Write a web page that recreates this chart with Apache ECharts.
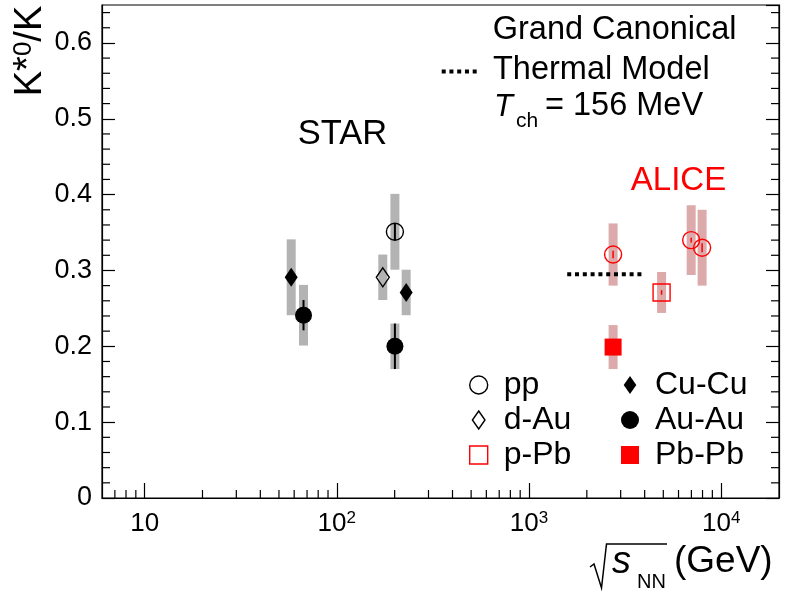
<!DOCTYPE html>
<html><head><meta charset="utf-8">
<script src="https://cdn.jsdelivr.net/npm/echarts@6/dist/echarts.min.js"></script>
<style>html,body{margin:0;padding:0;background:#fff}#c{width:788px;height:593px}</style>
</head><body><div id="c"></div>
<script>
const FONT = 'Liberation Sans';
// each point: [sqrt(sNN) in GeV, K*0/K, stat. error, syst. error]
const STAR_pp    = [[200.6, 0.351, 0.011, 0.050]];
const STAR_dAu   = [[173.5, 0.291, 0.000, 0.030]];
const STAR_CuCu  = [[57.9, 0.291, 0.006, 0.050], [229.6, 0.271, 0.006, 0.030]];
const STAR_AuAu  = [[67.1, 0.241, 0.020, 0.040], [200.6, 0.200, 0.030, 0.030]];
const ALICE_pp   = [[2740, 0.321, 0.005, 0.041], [6982, 0.340, 0.003, 0.046], [7960, 0.330, 0.006, 0.050]];
const ALICE_pPb  = [[4898, 0.271, 0.003, 0.027]];
const ALICE_PbPb = [[2740, 0.199, 0.004, 0.029]];
const THERMAL    = [[1581, 0.295], [3996, 0.295]];
const X_MINOR = [7, 8, 9, 20, 30, 40, 50, 60, 70, 80, 90, 200, 300, 400, 500, 600, 700, 800, 900,
                 2000, 3000, 4000, 5000, 6000, 7000, 8000, 9000];
const Y_MINOR = [0.02, 0.04, 0.06, 0.08, 0.12, 0.14, 0.16, 0.18, 0.22, 0.24, 0.26, 0.28,
                 0.32, 0.34, 0.36, 0.38, 0.42, 0.44, 0.46, 0.48, 0.52, 0.54, 0.56, 0.58, 0.62, 0.64];

const GRAY = '#b3b3b3', PINK = '#dcaaaa', RED = '#ff0000';
const STAR_all = [].concat(STAR_pp, STAR_dAu, STAR_CuCu, STAR_AuAu);
const ALICE_all = [].concat(ALICE_pp, ALICE_pPb, ALICE_PbPb);

function sysRender(color) {
  return function (params, api) {
    const x = api.value(0), y = api.value(1), s = api.value(3);
    const t = api.coord([x, y + s]), b = api.coord([x, y - s]);
    return { type: 'rect', shape: { x: t[0] - 4.5, y: t[1], width: 9, height: b[1] - t[1] }, style: { fill: color } };
  };
}
function statRender(color, w) {
  return function (params, api) {
    const x = api.value(0), y = api.value(1), s = api.value(2);
    if (!(s > 0)) return null;
    const t = api.coord([x, y + s]), b = api.coord([x, y - s]);
    return { type: 'line', shape: { x1: t[0], y1: t[1], x2: b[0], y2: b[1] }, style: { stroke: color, lineWidth: w } };
  };
}
function xMinorRender(params, api) {
  const cs = params.coordSys;
  const px = api.coord([api.value(0), 0.3])[0];
  const yb = cs.y + cs.height;
  return { type: 'line', shape: { x1: px, y1: yb, x2: px, y2: yb - 8 }, style: { stroke: '#000', lineWidth: 1.2 } };
}
function yMinorRender(params, api) {
  const cs = params.coordSys;
  const py = api.coord([100, api.value(1)])[1];
  const xl = cs.x, xr = cs.x + cs.width;
  return { type: 'group', children: [
    { type: 'line', shape: { x1: xl, y1: py, x2: xl + 8, y2: py }, style: { stroke: '#000', lineWidth: 1.2 } },
    { type: 'line', shape: { x1: xr, y1: py, x2: xr - 8, y2: py }, style: { stroke: '#000', lineWidth: 1.2 } }
  ] };
}
const xy = a => a.map(p => [p[0], p[1]]);
const openStyle = c => ({ color: 'rgba(0,0,0,0)', borderColor: c, borderWidth: 1.4, opacity: 1 });
const fillStyle = c => ({ color: c, borderWidth: 0, opacity: 1 });
const legendCommon = {
  orient: 'vertical', top: 369, padding: 0, itemGap: 3, itemWidth: 18, itemHeight: 18,
  selectedMode: false,
  textStyle: { fontSize: 32, fontFamily: FONT, color: '#000', padding: [0, 0, 0, 11] }
};
const DIAMOND = 'path://M0,-10L7,0L0,10L-7,0Z';

const chart = echarts.init(document.getElementById('c'), null, { renderer: 'canvas' });
chart.setOption({
  animation: false,
  backgroundColor: '#fff',
  textStyle: { fontFamily: FONT },
  grid: { left: 102, right: 9, top: 5, bottom: 95, show: true, borderColor: '#000', borderWidth: 1.2, backgroundColor: 'rgba(0,0,0,0)' },
  xAxis: {
    type: 'log', logBase: 10, min: 6, max: 20000,
    axisLine: { show: true, lineStyle: { color: '#000', width: 1.2 } },
    axisTick: { show: true, inside: true, length: 15, lineStyle: { color: '#000', width: 1.2 } },
    splitLine: { show: false }, minorTick: { show: false },
    axisLabel: {
      color: '#000', margin: 12, showMinLabel: false, showMaxLabel: false,
      formatter: function (v) {
        const e = Math.round(Math.log10(v));
        return e === 1 ? '{b|10}' : '{b|10}{s|' + e + '}';
      },
      rich: {
        b: { fontSize: 26, lineHeight: 28, fontFamily: FONT, color: '#000' },
        s: { fontSize: 17, lineHeight: 17, verticalAlign: 'top', fontFamily: FONT, color: '#000' }
      }
    }
  },
  yAxis: [{
    type: 'value', min: 0, max: 0.65, interval: 0.1,
    axisLine: { show: true, lineStyle: { color: '#000', width: 1.2 } },
    axisTick: { show: true, inside: true, length: 13, lineStyle: { color: '#000', width: 1.2 } },
    splitLine: { show: false },
    axisLabel: { color: '#000', fontSize: 27, fontFamily: FONT, margin: 10, showMaxLabel: false,
      formatter: v => (v === 0 ? '0' : v.toFixed(1)) }
  }, {
    type: 'value', min: 0, max: 0.65, interval: 0.1, position: 'right',
    axisLine: { show: true, lineStyle: { color: '#000', width: 1.2 } },
    axisTick: { show: true, inside: true, length: 13, lineStyle: { color: '#000', width: 1.2 } },
    splitLine: { show: false }, axisLabel: { show: false }
  }],
  legend: [Object.assign({}, legendCommon, {
    left: 469,
    data: [
      { name: 'pp', icon: 'circle', itemStyle: openStyle('#000') },
      { name: 'd-Au', icon: DIAMOND, itemStyle: openStyle('#000') },
      { name: 'p-Pb', icon: 'rect', itemStyle: openStyle(RED) }
    ]
  }), Object.assign({}, legendCommon, {
    left: 621,
    data: [
      { name: 'Cu-Cu', icon: DIAMOND, itemStyle: fillStyle('#000') },
      { name: 'Au-Au', icon: 'circle', itemStyle: fillStyle('#000') },
      { name: 'Pb-Pb', icon: 'rect', itemStyle: fillStyle(RED) }
    ]
  })],
  series: [
    { type: 'custom', name: 'xminor', data: X_MINOR.map(v => [v, 0.3]), renderItem: xMinorRender, silent: true, z: 1, clip: false },
    { type: 'custom', name: 'yminor', data: Y_MINOR.map(v => [100, v]), renderItem: yMinorRender, silent: true, z: 1, clip: false },
    { type: 'custom', name: 'STAR sys', data: STAR_all, renderItem: sysRender(GRAY), silent: true, z: 2 },
    { type: 'custom', name: 'ALICE sys', data: ALICE_all, renderItem: sysRender(PINK), silent: true, z: 2 },
    { type: 'line', name: 'Thermal', data: THERMAL, symbol: 'none', silent: true, z: 3,
      lineStyle: { color: '#000', width: 4, type: [4, 3.8], cap: 'butt', opacity: 1 } },
    { type: 'scatter', name: 'pp', data: xy(STAR_pp), symbol: 'circle', symbolSize: 17, itemStyle: openStyle('#000'), z: 4, silent: true },
    { type: 'scatter', name: 'd-Au', data: xy(STAR_dAu), symbol: 'diamond', symbolSize: [13, 19], itemStyle: openStyle('#000'), z: 4, silent: true },
    { type: 'scatter', name: 'p-Pb', data: xy(ALICE_pPb), symbol: 'rect', symbolSize: 17, itemStyle: openStyle(RED), z: 4, silent: true },
    { type: 'scatter', name: 'Cu-Cu', data: xy(STAR_CuCu), symbol: 'diamond', symbolSize: [13, 19], itemStyle: fillStyle('#000'), z: 4, silent: true },
    { type: 'scatter', name: 'Au-Au', data: xy(STAR_AuAu), symbol: 'circle', symbolSize: 17, itemStyle: fillStyle('#000'), z: 4, silent: true },
    { type: 'scatter', name: 'Pb-Pb', data: xy(ALICE_PbPb), symbol: 'rect', symbolSize: 17, itemStyle: fillStyle(RED), z: 4, silent: true },
    { type: 'scatter', name: 'ALICE pp', data: xy(ALICE_pp), symbol: 'circle', symbolSize: 17, itemStyle: openStyle(RED), z: 4, silent: true },
    { type: 'custom', name: 'STAR stat', data: STAR_all, renderItem: statRender('#000', 2), silent: true, z: 5 },
    { type: 'custom', name: 'ALICE stat', data: ALICE_all, renderItem: statRender(RED, 1.5), silent: true, z: 5 }
  ],
  graphic: [
    { type: 'text', x: 31, y: 51, rotation: Math.PI / 2, silent: true,
      style: { text: 'K{a|*}{s|0}/K', fontSize: 38, lineHeight: 40, fontFamily: FONT, fill: '#000', align: 'center', verticalAlign: 'middle',
        rich: { a: { fontSize: 38, lineHeight: 38, verticalAlign: 'top', fontFamily: FONT, fill: '#000' },
                s: { fontSize: 26, lineHeight: 24, verticalAlign: 'top', fontFamily: FONT, fill: '#000' } } } },
    { type: 'polyline', silent: true, shape: { points: [[590, 567], [594, 564], [601.5, 588], [606.5, 544], [667, 544]] },
      style: { stroke: '#000', lineWidth: 1.5, fill: null } },
    { type: 'text', x: 612, y: 562, silent: true, style: { text: 's', fontSize: 38, fontStyle: 'italic', fontFamily: FONT, fill: '#000', align: 'left', verticalAlign: 'middle' } },
    { type: 'text', x: 637, y: 582, silent: true, style: { text: 'NN', fontSize: 20, fontFamily: FONT, fill: '#000', align: 'left', verticalAlign: 'middle' } },
    { type: 'text', x: 674, y: 562, silent: true, style: { text: '(GeV)', fontSize: 37, fontFamily: FONT, fill: '#000', align: 'left', verticalAlign: 'middle' } },
    { type: 'text', x: 342.5, y: 134, silent: true, style: { text: 'STAR', fontSize: 34.5, fontFamily: FONT, fill: '#000', align: 'center', verticalAlign: 'middle' } },
    { type: 'text', x: 678.5, y: 180.5, silent: true, style: { text: 'ALICE', fontSize: 33, fontFamily: FONT, fill: RED, align: 'center', verticalAlign: 'middle' } },
    { type: 'text', x: 492.7, y: 30, silent: true, style: { text: 'Grand Canonical', fontSize: 32.5, fontFamily: FONT, fill: '#000', align: 'left', verticalAlign: 'middle' } },
    { type: 'line', silent: true, shape: { x1: 441.7, y1: 71.5, x2: 477, y2: 71.5 }, style: { stroke: '#000', lineWidth: 4, lineDash: [4, 3.75] } },
    { type: 'text', x: 493, y: 69.7, silent: true, style: { text: 'Thermal Model', fontSize: 32.5, fontFamily: FONT, fill: '#000', align: 'left', verticalAlign: 'middle' } },
    { type: 'text', x: 494, y: 107, silent: true, style: { text: 'T', fontSize: 31, fontStyle: 'italic', fontFamily: FONT, fill: '#000', align: 'left', verticalAlign: 'middle' } },
    { type: 'text', x: 516, y: 121, silent: true, style: { text: 'ch', fontSize: 21, fontFamily: FONT, fill: '#000', align: 'left', verticalAlign: 'middle' } },
    { type: 'text', x: 545, y: 106, silent: true, style: { text: '= 156 MeV', fontSize: 32.5, fontFamily: FONT, fill: '#000', align: 'left', verticalAlign: 'middle' } }
  ]
});
</script>
</body></html>
